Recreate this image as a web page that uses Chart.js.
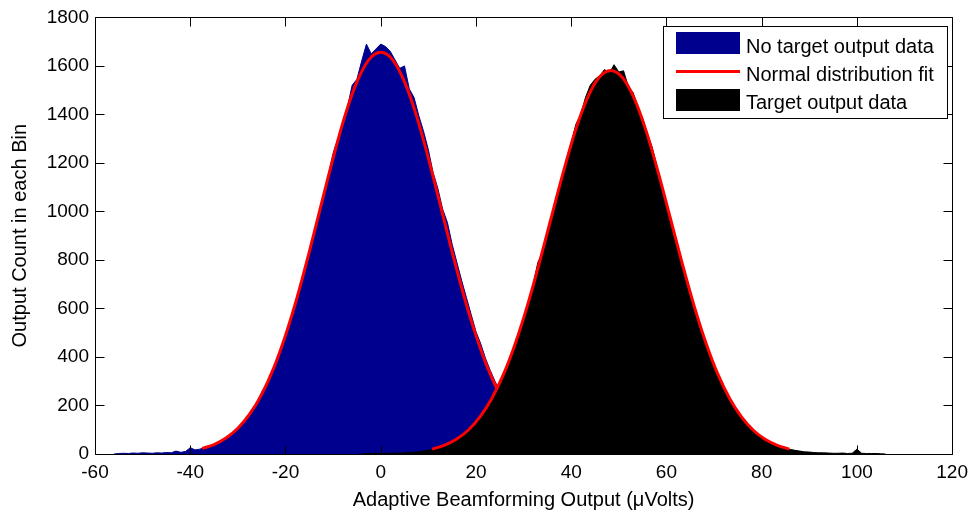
<!DOCTYPE html>
<html>
<head>
<meta charset="utf-8">
<title>Adaptive Beamforming Output Histogram</title>
<script src="https://cdn.jsdelivr.net/npm/chart.js@4.4.1/dist/chart.umd.min.js"></script>
<style>
  html, body { margin: 0; padding: 0; background: #ffffff; }
  canvas { display: block; }
</style>
</head>
<body>
<canvas id="hist" width="975" height="515"></canvas>
<script>
// Histogram bins are 1 µV wide; the first bin of each series is centred on its *BinStart value.
const noTargetBinStart = -56;
const noTargetCounts = [
  0, 2, 3, 2, 4, 3, 5, 4, 3, 5,
  4, 6, 5, 12, 7, 10, 26, 17, 20, 26,
  30, 40, 48, 62, 71, 90, 108, 125, 145, 178,
  212, 255, 285, 325, 380, 430, 492, 548, 618, 688,
  752, 838, 905, 992, 1065, 1150, 1240, 1300, 1368, 1430,
  1520, 1545, 1620, 1690, 1650, 1670, 1690, 1680, 1660, 1625,
  1590, 1600, 1505, 1470, 1395, 1330, 1255, 1160, 1095, 1010,
  955, 865, 790, 715, 645, 575, 505, 455, 395, 345,
  300, 260, 222, 188, 158, 132, 110, 92, 75, 62,
  50, 40, 33, 26, 20, 16, 12, 10, 8, 6,
  5, 3, 0
];

const targetBinStart = -4;
const targetCounts = [
  0, 2, 2, 3, 2, 3, 3, 4, 3, 5,
  5, 7, 9, 12, 15, 20, 26, 32, 40, 50,
  62, 75, 92, 110, 130, 155, 185, 222, 255, 290,
  340, 390, 440, 505, 560, 630, 700, 790, 830, 905,
  990, 1070, 1130, 1215, 1285, 1360, 1400, 1470, 1520, 1545,
  1560, 1585, 1570, 1605, 1575, 1580, 1515, 1490, 1430, 1385,
  1320, 1265, 1185, 1115, 1030, 965, 880, 815, 735, 670,
  600, 540, 478, 420, 370, 322, 280, 240, 206, 175,
  148, 124, 104, 86, 71, 58, 47, 38, 30, 24,
  19, 15, 12, 9, 8, 6, 5, 5, 4, 3,
  3, 4, 2, 3, 20, 3, 2, 2, 2, 1,
  0
];

// Normal distribution fits, sampled over mean ± 3 sigma
const fitNoTargetX = [-37.5, -35, -32.5, -30, -27.5, -25, -22.5, -20, -17.5, -15, -12.5, -10, -7.5, -5, -2.5,
  0, 2.5, 5, 7.5, 10, 12.5, 15, 17.5, 20, 22.5, 25, 27.5, 30, 32.5, 35, 37.5];
const fitNoTargetY = [23, 39, 66, 106, 165, 246, 353, 489, 650, 833, 1028, 1220, 1395, 1534, 1625,
  1656, 1625, 1534, 1395, 1220, 1028, 833, 650, 489, 353, 246, 165, 106, 66, 39, 23];
const fitTargetX = [10.8, 13.3, 15.8, 18.3, 20.8, 23.3, 25.8, 28.3, 30.8, 33.3, 35.8, 38.3, 40.8, 43.3, 45.8,
  48.3, 50.8, 53.3, 55.8, 58.3, 60.8, 63.3, 65.8, 68.3, 70.8, 73.3, 75.8, 78.3, 80.8, 83.3, 85.8];
const fitTargetY = [20, 36, 60, 97, 152, 228, 329, 458, 612, 787, 974, 1159, 1328, 1463, 1551,
  1581, 1551, 1463, 1328, 1159, 974, 787, 612, 458, 329, 228, 152, 97, 60, 36, 20];

const xRange = [-60, 120], xStep = 20;
const yRange = [0, 1800], yStep = 200;

const legendLabels = ['No target output data', 'Normal distribution fit', 'Target output data'];

const NAVY = 'rgb(0,0,143)';
const RED = 'rgb(255,0,0)';
const FONT = "'Liberation Sans', Arial, Helvetica, sans-serif";

function binsToPoints(start, counts) {
  return counts.map((c, i) => ({ x: start + i, y: c }));
}
function zipPoints(xs, ys) {
  return xs.map((x, i) => ({ x: x, y: ys[i] }));
}
// plain numbers, no thousands separator
const plainTick = v => String(v);

// Boxed axes with inward tick marks on all four sides, plus the boxed legend
const axesBoxAndLegend = {
  id: 'axesBoxAndLegend',
  afterDatasetsDraw(chart) {
    const { ctx, chartArea: a, scales } = chart;
    const L = Math.round(a.left) + 0.5, R = Math.round(a.right) + 0.5;
    const T = Math.round(a.top) + 0.5, B = Math.round(a.bottom) + 0.5;
    const tl = 9;
    ctx.save();
    ctx.strokeStyle = '#000';
    ctx.lineWidth = 1;
    ctx.beginPath();
    ctx.rect(L, T, R - L, B - T);
    scales.x.ticks.forEach(t => {
      const px = Math.round(scales.x.getPixelForValue(t.value)) + 0.5;
      ctx.moveTo(px, B); ctx.lineTo(px, B - tl);
      ctx.moveTo(px, T); ctx.lineTo(px, T + tl);
    });
    scales.y.ticks.forEach(t => {
      const py = Math.round(scales.y.getPixelForValue(t.value)) + 0.5;
      ctx.moveTo(L, py); ctx.lineTo(L + tl, py);
      ctx.moveTo(R, py); ctx.lineTo(R - tl, py);
    });
    ctx.stroke();

    // legend
    const bx = 663.5, by = 26.5, bw = 284, bh = 92;
    ctx.fillStyle = '#fff';
    ctx.fillRect(bx, by, bw, bh);
    ctx.strokeRect(bx, by, bw, bh);
    ctx.fillStyle = NAVY;
    ctx.fillRect(676, 32, 64, 22);
    ctx.strokeStyle = RED;
    ctx.lineWidth = 3;
    ctx.beginPath();
    ctx.moveTo(676, 71.5); ctx.lineTo(740, 71.5);
    ctx.stroke();
    ctx.fillStyle = '#000';
    ctx.fillRect(676, 89, 64, 22);
    ctx.font = '20px ' + FONT;
    ctx.textBaseline = 'alphabetic';
    ctx.textAlign = 'left';
    ctx.fillText(legendLabels[0], 746, 52.5);
    ctx.fillText(legendLabels[1], 746, 80.5);
    ctx.fillText(legendLabels[2], 746, 108.5);
    ctx.restore();
  }
};

new Chart(document.getElementById('hist'), {
  type: 'line',
  data: {
    datasets: [
      {
        label: legendLabels[0],
        data: binsToPoints(noTargetBinStart, noTargetCounts),
        order: 4,
        fill: 'origin',
        backgroundColor: NAVY,
        borderColor: NAVY,
        borderWidth: 1,
        pointRadius: 0,
        tension: 0
      },
      {
        label: legendLabels[1],
        data: zipPoints(fitNoTargetX, fitNoTargetY),
        order: 3,
        fill: false,
        borderColor: RED,
        borderWidth: 3,
        pointRadius: 0,
        cubicInterpolationMode: 'monotone'
      },
      {
        label: legendLabels[2],
        data: binsToPoints(targetBinStart, targetCounts),
        order: 2,
        fill: 'origin',
        backgroundColor: '#000',
        borderColor: '#000',
        borderWidth: 1,
        pointRadius: 0,
        tension: 0
      },
      {
        label: legendLabels[1] + ' (target)',
        data: zipPoints(fitTargetX, fitTargetY),
        order: 1,
        fill: false,
        borderColor: RED,
        borderWidth: 3,
        pointRadius: 0,
        cubicInterpolationMode: 'monotone'
      }
    ]
  },
  options: {
    responsive: false,
    animation: false,
    devicePixelRatio: 1,
    layout: { padding: { left: 0, top: 15, right: 21, bottom: 0 } },
    plugins: { legend: { display: false }, tooltip: { enabled: false } },
    scales: {
      x: {
        type: 'linear',
        min: xRange[0], max: xRange[1],
        grid: { display: false, drawTicks: false },
        border: { display: false },
        ticks: { stepSize: xStep, padding: 7, color: '#000', maxRotation: 0, autoSkip: false,
                 callback: plainTick, font: { family: FONT, size: 19 } },
        title: { display: true, text: 'Adaptive Beamforming Output (μVolts)', color: '#000',
                 font: { family: FONT, size: 20 }, padding: { top: 0, bottom: 3 } },
        afterFit(scale) { scale.height = 61; }
      },
      y: {
        type: 'linear',
        min: yRange[0], max: yRange[1],
        grid: { display: false, drawTicks: false },
        border: { display: false },
        ticks: { stepSize: yStep, padding: 6, color: '#000', callback: plainTick,
                 font: { family: FONT, size: 19 } },
        title: { display: true, text: 'Output Count in each Bin', color: '#000',
                 font: { family: FONT, size: 20 }, padding: { top: 8, bottom: 0 } },
        afterFit(scale) { scale.width = 95; }
      }
    }
  },
  plugins: [axesBoxAndLegend]
});
</script>
</body>
</html>
